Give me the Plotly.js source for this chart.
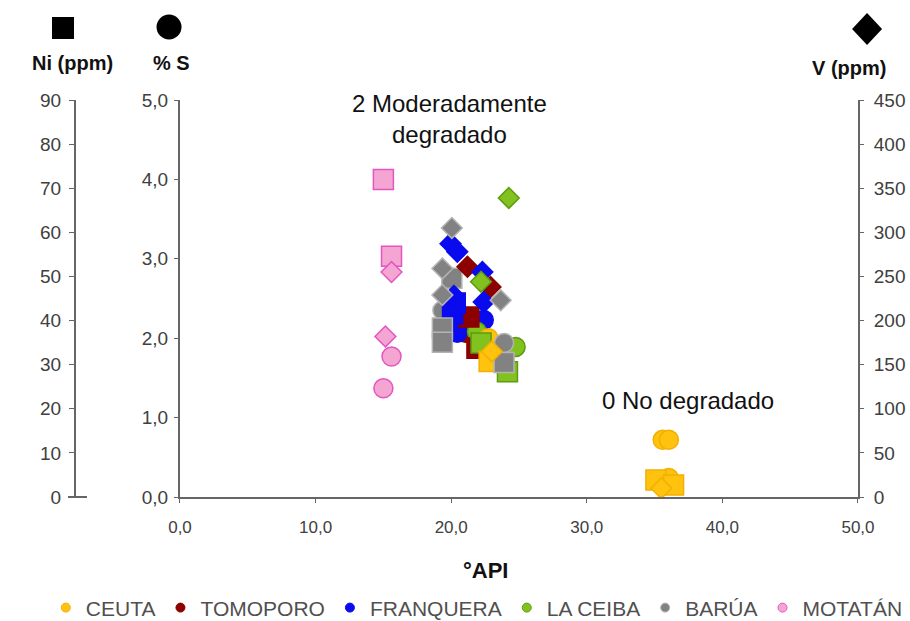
<!DOCTYPE html>
<html>
<head>
<meta charset="utf-8">
<script src="https://cdn.plot.ly/plotly-3.0.1.min.js"></script>
<style>
  html, body { margin: 0; padding: 0; background: #fff; }
  #chart { width: 910px; height: 621px; }
</style>
</head>
<body>
<div id="chart"></div>
<script>
// Field names, in legend order
const fields = ['CEUTA', 'TOMOPORO', 'FRANQUERA', 'LA CEIBA', 'BARÚA', 'MOTATÁN'];

// CEUTA
const ceutaNiApi = [35.1, 36.4, 22.8];
const ceutaNi    = [3.85, 2.7, 30.7];
const ceutaSApi  = [35.6, 36.05, 36.05, 22.75];
const ceutaS     = [0.72, 0.72, 0.24, 2.0];
const ceutaVApi  = [35.5, 23.0];
const ceutaV     = [10, 165];

// TOMOPORO
const tomoporoNiApi = [21.3, 21.9];
const tomoporoNi    = [40.8, 33.7];
const tomoporoSApi  = [21.05];
const tomoporoS     = [2.07];
const tomoporoVApi  = [21.2, 22.9];
const tomoporoV     = [261, 238];

// FRANQUERA
const franqueraNiApi = [20.3, 20.1];
const franqueraNi    = [44, 41.5];
const franqueraSApi  = [20.45, 22.4];
const franqueraS     = [2.07, 2.23];
const franqueraVApi  = [19.95, 20.45, 22.3, 20.2, 22.4];
const franqueraV     = [287, 278, 255, 228, 221];

// LA CEIBA
const ceibaNiApi = [22.2, 24.15];
const ceibaNi    = [34.9, 28.4];
const ceibaSApi  = [21.9, 24.75];
const ceibaS     = [2.08, 1.89];
const ceibaVApi  = [24.25, 22.2];
const ceibaV     = [339, 244];

// BARÚA
const baruaNiApi = [20.05, 19.35, 19.35, 23.9];
const baruaNi    = [49.6, 38.3, 35.1, 30.5];
const baruaSApi  = [19.35, 23.9];
const baruaS     = [2.35, 1.94];
const baruaVApi  = [20.05, 19.35, 19.35, 23.65];
const baruaV     = [305, 259, 229, 223];

// MOTATÁN
const motatanNiApi = [15.0, 15.6];
const motatanNi    = [72, 54.6];
const motatanSApi  = [15.6, 15.0];
const motatanS     = [1.77, 1.37];
const motatanVApi  = [15.6, 15.15];
const motatanV     = [255, 182];

// Axis ticks
const apiTicks = [0, 10, 20, 30, 40, 50];
const sTicks   = [0, 1, 2, 3, 4, 5];
const niTicks  = [0, 10, 20, 30, 40, 50, 60, 70, 80, 90];
const vTicks   = [0, 50, 100, 150, 200, 250, 300, 350, 400, 450];

// Marker styling per field
const styles = {
  'CEUTA':     { fill: '#FFC20E', edge: '#F2B000' },
  'TOMOPORO':  { fill: '#8C0000', edge: '#8C0000' },
  'FRANQUERA': { fill: '#0A0AEE', edge: '#0A0AEE' },
  'LA CEIBA':  { fill: '#82C21E', edge: '#5E9A12' },
  'BARÚA':     { fill: '#828282', edge: '#B4B4B4' },
  'MOTATÁN':   { fill: '#F5A5D2', edge: '#E455C4' }
};

const series = {
  'CEUTA':     { niX: ceutaNiApi, ni: ceutaNi, sX: ceutaSApi, s: ceutaS, vX: ceutaVApi, v: ceutaV },
  'TOMOPORO':  { niX: tomoporoNiApi, ni: tomoporoNi, sX: tomoporoSApi, s: tomoporoS, vX: tomoporoVApi, v: tomoporoV },
  'FRANQUERA': { niX: franqueraNiApi, ni: franqueraNi, sX: franqueraSApi, s: franqueraS, vX: franqueraVApi, v: franqueraV },
  'LA CEIBA':  { niX: ceibaNiApi, ni: ceibaNi, sX: ceibaSApi, s: ceibaS, vX: ceibaVApi, v: ceibaV },
  'BARÚA':     { niX: baruaNiApi, ni: baruaNi, sX: baruaSApi, s: baruaS, vX: baruaVApi, v: baruaV },
  'MOTATÁN':   { niX: motatanNiApi, ni: motatanNi, sX: motatanSApi, s: motatanS, vX: motatanVApi, v: motatanV }
};

// Stacking order of the marks in the cluster
const drawOrder = ['TOMOPORO', 'FRANQUERA', 'LA CEIBA', 'CEUTA', 'BARÚA', 'MOTATÁN'];

const traces = [];
drawOrder.forEach(name => {
  const d = series[name], st = styles[name];
  const common = { type: 'scatter', mode: 'markers', showlegend: false, hoverinfo: 'skip' };
  traces.push(Object.assign({}, common, {
    x: d.niX, y: d.ni, yaxis: 'y2',
    marker: { symbol: 'square', size: 20, color: st.fill, line: { color: st.edge, width: 1.5 } }
  }));
  traces.push(Object.assign({}, common, {
    x: d.sX, y: d.s, yaxis: 'y',
    marker: { symbol: 'circle', size: 19, color: st.fill, line: { color: st.edge, width: 1.5 } }
  }));
  traces.push(Object.assign({}, common, {
    x: d.vX, y: d.v, yaxis: 'y3',
    marker: { symbol: 'diamond', size: 16, color: st.fill, line: { color: st.edge, width: 1.5 } }
  }));
});

// Legend entries (small round swatches)
fields.forEach((name, i) => {
  traces.push({
    type: 'scatter', mode: 'markers', x: [null], y: [null], name: name,
    legendrank: i + 1, showlegend: true, hoverinfo: 'skip',
    marker: { symbol: 'circle', size: 9, color: styles[name].fill, line: { color: styles[name].edge, width: 1 } }
  });
});

const FONT = 'Liberation Sans, Arial, sans-serif';
const axisLine = '#666666';
const xTickFont = { family: FONT, size: 17, color: '#404040' };
const yTickFont = { family: FONT, size: 19, color: '#404040' };
const titleFont = { family: FONT, size: 20, color: '#111', weight: 'bold' };
const noteFont = { family: FONT, size: 24, color: '#111' };

const layout = {
  width: 910, height: 621,
  margin: { l: 20, r: 20, t: 100, b: 124 },
  paper_bgcolor: '#fff', plot_bgcolor: '#fff',
  separators: ',.',
  showlegend: true,
  legend: {
    orientation: 'h', xref: 'container', yref: 'container',
    x: 0.524, xanchor: 'center', y: 0.021, yanchor: 'middle',
    font: { family: FONT, size: 21, color: '#505050' },
    traceorder: 'normal', itemsizing: 'trace', tracegroupgap: 0
  },
  xaxis: {
    domain: [0.1839, 0.9632], range: [0, 50], tickvals: apiTicks, tickformat: '.1f',
    showgrid: false, zeroline: false, showline: true, linecolor: axisLine, linewidth: 2,
    ticks: 'outside', ticklen: 4, tickcolor: axisLine, tickfont: xTickFont,
    ticklabelstandoff: 10
  },
  yaxis: {
    range: [0, 5], tickvals: sTicks, tickformat: '.1f',
    showgrid: false, zeroline: false, showline: true, linecolor: axisLine, linewidth: 2,
    ticks: 'outside', ticklen: 4, tickcolor: axisLine, tickfont: yTickFont, ticklabelstandoff: 2
  },
  yaxis2: {
    overlaying: 'y', anchor: 'free', position: 0.0632, side: 'left',
    range: [0, 90], tickvals: niTicks,
    showgrid: false, zeroline: false, showline: true, linecolor: axisLine, linewidth: 2,
    ticks: 'outside', ticklen: 5, tickcolor: axisLine, tickfont: yTickFont, ticklabelstandoff: 4
  },
  yaxis3: {
    overlaying: 'y', anchor: 'x', side: 'right',
    range: [0, 450], tickvals: vTicks,
    showgrid: false, zeroline: false, showline: true, linecolor: axisLine, linewidth: 2,
    ticks: 'outside', ticklen: 4, tickcolor: axisLine, tickfont: yTickFont, ticklabelstandoff: 6
  },
  annotations: [
    { text: 'Ni (ppm)', xref: 'paper', yref: 'paper', x: 0.0609, y: 1.093,
      xanchor: 'center', yanchor: 'middle', showarrow: false, font: titleFont },
    { text: '% S', xref: 'paper', yref: 'paper', x: 0.1736, y: 1.093,
      xanchor: 'center', yanchor: 'middle', showarrow: false, font: titleFont },
    { text: 'V (ppm)', xref: 'paper', yref: 'paper', x: 0.9977, y: 1.081,
      xanchor: 'right', yanchor: 'middle', showarrow: false, font: titleFont },
    { text: '°API', xref: 'paper', yref: 'paper', x: 0.5356, y: -0.184,
      xanchor: 'center', yanchor: 'middle', showarrow: false,
      font: { family: FONT, size: 22, color: '#111', weight: 'bold' } },
    { text: '2 Moderadamente<br>degradado', xref: 'paper', yref: 'paper', x: 0.494, y: 0.952,
      xanchor: 'center', yanchor: 'middle', showarrow: false, font: noteFont },
    { text: '0 No degradado', xref: 'paper', yref: 'paper', x: 0.768, y: 0.242,
      xanchor: 'center', yanchor: 'middle', showarrow: false, font: noteFont }
  ],
  shapes: [
    // key glyphs above the three value axes
    { type: 'rect', xref: 'paper', yref: 'paper', xsizemode: 'pixel', ysizemode: 'pixel',
      xanchor: 0.0494, yanchor: 1.1814, x0: -11, x1: 11, y0: -11, y1: 11,
      fillcolor: '#000', line: { width: 0 } },
    { type: 'circle', xref: 'paper', yref: 'paper', xsizemode: 'pixel', ysizemode: 'pixel',
      xanchor: 0.1713, yanchor: 1.1839, x0: -12.5, x1: 12.5, y0: -12.5, y1: 12.5,
      fillcolor: '#000', line: { width: 0 } },
    { type: 'path', xref: 'paper', yref: 'paper', xsizemode: 'pixel', ysizemode: 'pixel',
      xanchor: 0.9736, yanchor: 1.1788, path: 'M 0 16 L 15 0 L 0 -16 L -15 0 Z',
      fillcolor: '#000', line: { width: 0 } },
    // base tick crossing the Ni axis at zero
    { type: 'line', xref: 'paper', yref: 'paper', x0: 0.0552, x1: 0.077, y0: 0, y1: 0,
      line: { color: axisLine, width: 2 } }
  ]
};

Plotly.newPlot('chart', traces, layout, { displayModeBar: false, staticPlot: true });
</script>
</body>
</html>
